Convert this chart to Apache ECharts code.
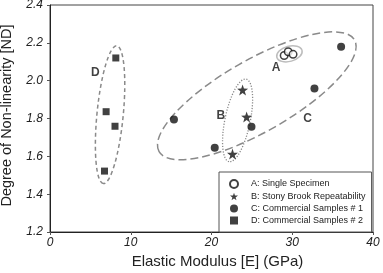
<!DOCTYPE html>
<html>
<head>
<meta charset="utf-8">
<script src="https://cdn.jsdelivr.net/npm/echarts@6/dist/echarts.min.js"></script>
<style>
html, body { margin: 0; padding: 0; background: #fff; }
#main { width: 383px; height: 273px; }
</style>
</head>
<body>
<div id="main"></div>
<script>
// measured points, one pair of arrays per group
var aX = [29.0, 29.5, 30.1];
var aY = [2.133, 2.153, 2.139];
var bX = [22.6, 23.85, 24.35];
var bY = [1.612, 1.951, 1.808];
var cX = [15.35, 20.4, 24.95, 32.75, 36.05];
var cY = [1.795, 1.645, 1.757, 1.958, 2.179];
var dX = [8.15, 6.95, 8.05, 6.75];
var dY = [2.120, 1.836, 1.759, 1.522];

var seriesNames = [
    'A: Single Specimen',
    'B: Stony Brook Repeatability',
    'C: Commercial Samples # 1',
    'D: Commercial Samples # 2'
];

// group ellipses: centre, end of long axis, short/long ratio
var ellName = ['A', 'B', 'C', 'D'];
var ellCx = [29.65, 23.23, 25.61, 7.44];
var ellCy = [2.142, 1.790, 1.920, 1.820];
var ellEx = [31.21, 24.29, 37.71, 8.27];
var ellEy = [2.160, 2.008, 2.215, 2.184];
var ellRatio = [0.58, 0.30, 0.32, 0.19];

// group letters
var labelX = [28.0, 21.15, 31.9, 5.6];
var labelY = [2.07, 1.817, 1.80, 2.04];

var xTicks = [0, 10, 20, 30, 40];
var yTicks = [1.2, 1.4, 1.6, 1.8, 2.0, 2.2, 2.4];

var STAR = 'path://M0,-10L2.35,-3.24L9.51,-3.09L3.8,1.24L5.88,8.09L0,4L-5.88,8.09L-3.8,1.24L-9.51,-3.09L-2.35,-3.24Z';

function pairs(xs, ys) {
    return xs.map(function (x, i) { return [x, ys[i]]; });
}

// ellipse look: A solid light, B dotted, C/D dashed
var ellStyle = [
    { stroke: '#bdbdbd', lineWidth: 1.5, lineDash: null },
    { stroke: '#8a8a8a', lineWidth: 1.3, lineDash: [1.2, 1.6] },
    { stroke: '#8a8a8a', lineWidth: 1.5, lineDash: [8, 4] },
    { stroke: '#8a8a8a', lineWidth: 1.5, lineDash: [4, 3] }
];

var ellData = ellName.map(function (n, i) {
    return [ellCx[i], ellCy[i], ellEx[i], ellEy[i], ellRatio[i]];
});

var chart = echarts.init(document.getElementById('main'));

chart.setOption({
    animation: false,
    grid: {
        left: 50,
        right: 10,
        top: 5,
        bottom: 41,
        outerBoundsMode: 'none',
        containLabel: false,
        show: true,
        borderColor: '#444',
        borderWidth: 1
    },
    xAxis: {
        type: 'value',
        min: xTicks[0],
        max: xTicks[xTicks.length - 1],
        interval: 10,
        name: 'Elastic Modulus [E] (GPa)',
        nameLocation: 'middle',
        nameGap: 18,
        nameTextStyle: { fontFamily: 'Liberation Sans', fontSize: 15, color: '#222', padding: [0, 0, 0, 12] },
        axisLine: { lineStyle: { color: '#222', width: 1 } },
        axisTick: { show: true, length: 3, lineStyle: { color: '#555' } },
        axisLabel: { fontFamily: 'Liberation Sans', fontSize: 12, fontStyle: 'italic', color: '#222', margin: 5 },
        splitLine: { show: false }
    },
    yAxis: {
        type: 'value',
        min: yTicks[0],
        max: yTicks[yTicks.length - 1],
        interval: 0.2,
        name: 'Degree of Non-linearity [ND]',
        nameLocation: 'middle',
        nameGap: 36,
        nameTextStyle: { fontFamily: 'Liberation Sans', fontSize: 14.5, color: '#222', padding: [0, 0, 0, 6] },
        axisLine: { lineStyle: { color: '#222', width: 1 } },
        axisTick: { show: true, length: 3, lineStyle: { color: '#555' } },
        axisLabel: {
            fontFamily: 'Liberation Sans', fontSize: 12, fontStyle: 'italic', color: '#222', margin: 7,
            formatter: function (v) { return v.toFixed(1); }
        },
        splitLine: { show: false }
    },
    legend: {
        data: seriesNames,
        orient: 'vertical',
        left: 219,
        top: 172,
        padding: [7, 6, 7, 10],
        itemGap: 3,
        itemWidth: 8,
        itemHeight: 8,
        backgroundColor: '#fff',
        borderColor: '#555',
        borderWidth: 1,
        textStyle: { fontFamily: 'Liberation Sans', fontSize: 9, color: '#222', padding: [0, 0, 0, 8] }
    },
    series: [
        {
            type: 'custom',
            name: 'groups',
            silent: true,
            z: 1,
            data: ellData,
            renderItem: function (params, api) {
                var i = params.dataIndex;
                var c = api.coord([api.value(0), api.value(1)]);
                var e = api.coord([api.value(2), api.value(3)]);
                var dx = e[0] - c[0], dy = e[1] - c[1];
                var a = Math.sqrt(dx * dx + dy * dy);
                var st = ellStyle[i];
                return {
                    type: 'ellipse',
                    x: c[0],
                    y: c[1],
                    rotation: -Math.atan2(dy, dx),
                    shape: { cx: 0, cy: 0, rx: a, ry: a * api.value(4) },
                    style: { fill: 'none', stroke: st.stroke, lineWidth: st.lineWidth, lineDash: st.lineDash }
                };
            }
        },
        {
            type: 'scatter',
            name: 'letters',
            silent: true,
            symbol: 'circle',
            symbolSize: 1,
            itemStyle: { color: 'rgba(0,0,0,0)' },
            data: ellName.map(function (n, i) { return { name: n, value: [labelX[i], labelY[i]] }; }),
            label: {
                show: true,
                position: 'inside',
                formatter: '{b}',
                fontFamily: 'Liberation Sans',
                fontWeight: 'bold',
                fontSize: 12,
                color: '#111'
            }
        },
        {
            type: 'scatter',
            name: seriesNames[0],
            z: 3,
            symbol: 'circle',
            symbolSize: 7.5,
            itemStyle: { color: '#fff', borderColor: '#111', borderWidth: 1.5 },
            data: pairs(aX, aY)
        },
        {
            type: 'scatter',
            name: seriesNames[1],
            z: 3,
            symbol: STAR,
            symbolSize: 11,
            itemStyle: { color: '#111' },
            data: pairs(bX, bY)
        },
        {
            type: 'scatter',
            name: seriesNames[2],
            z: 3,
            symbol: 'circle',
            symbolSize: 8,
            itemStyle: { color: '#111' },
            data: pairs(cX, cY)
        },
        {
            type: 'scatter',
            name: seriesNames[3],
            z: 3,
            symbol: 'rect',
            symbolSize: 7,
            itemStyle: { color: '#111' },
            data: pairs(dX, dY)
        }
    ]
});
</script>
</body>
</html>
